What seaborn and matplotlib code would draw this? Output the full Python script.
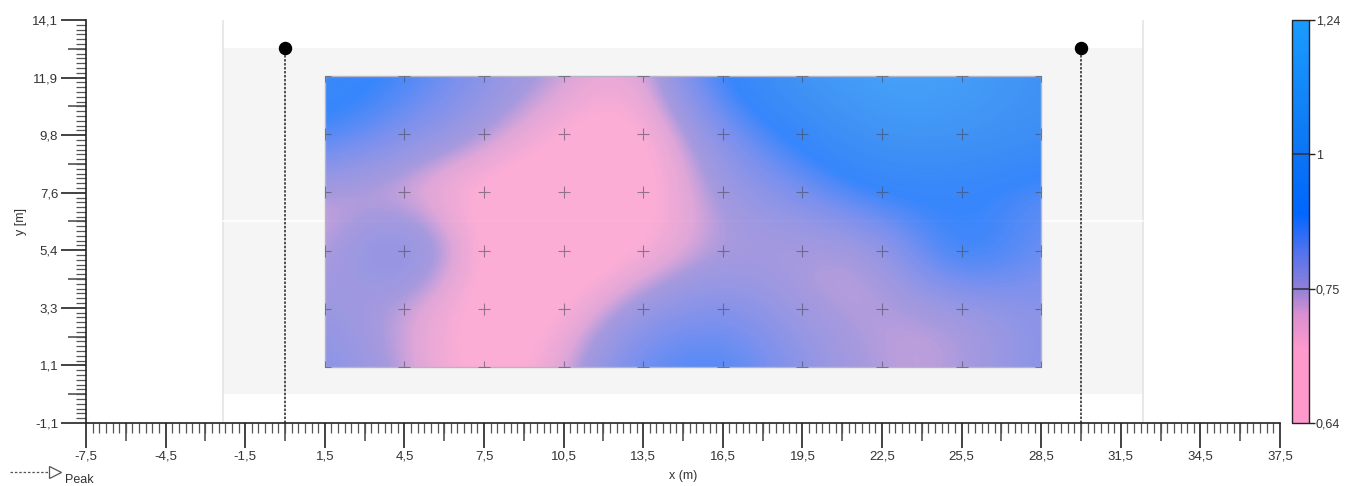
import numpy as np
import matplotlib
matplotlib.use("Agg")
import matplotlib.pyplot as plt
import matplotlib.colors as mcolors
from matplotlib.cm import ScalarMappable
from matplotlib.patches import Rectangle
from matplotlib.lines import Line2D
import seaborn as sns

# measurement grid (x in m, y in m)
grid_x = [1.5, 4.5, 7.5, 10.5, 13.5, 16.5, 19.5, 22.5, 25.5, 28.5]
grid_y = [12.0, 9.8, 7.6, 5.4, 3.2, 1.0]

# values, one row per grid_y
row_12_0 = [0.95, 0.88, 0.79, 0.74, 0.70, 0.90, 1.05, 1.15, 1.12, 1.00]
row_9_8 = [0.88, 0.80, 0.75, 0.69, 0.68, 0.79, 0.92, 1.05, 1.05, 0.98]
row_7_6 = [0.73, 0.71, 0.68, 0.67, 0.68, 0.76, 0.80, 0.90, 0.88, 0.84]
row_5_4 = [0.73, 0.84, 0.68, 0.67, 0.69, 0.75, 0.74, 0.73, 0.95, 0.82]
row_3_2 = [0.77, 0.73, 0.68, 0.69, 0.77, 0.81, 0.75, 0.74, 0.74, 0.79]
row_1_0 = [0.80, 0.74, 0.68, 0.72, 0.85, 0.88, 0.78, 0.74, 0.74, 0.80]

peak_x = [0.0, 30.0]
peak_y = 13.05
zone = (-2.35, 0.0, 32.35, 13.05)  # grey zone: x0, y0, x1, y1

cbar_bounds = [0.64, 0.75, 1.0, 1.24]
cbar_labels = ["0,64", "0,75", "1", "1,24"]

x_tick_vals = np.arange(-7.5, 37.6, 3.0)
x_tick_labels = [f"{v:g}".replace(".", ",") for v in x_tick_vals]
y_tick_vals = np.linspace(-1.1, 14.1, 8)
y_tick_labels = ["-1,1", "1,1", "3,3", "5,4", "7,6", "9,8", "11,9", "14,1"]

values = np.array([row_12_0, row_9_8, row_7_6, row_5_4, row_3_2, row_1_0])

sns.set_theme(style="white")
plt.rcParams["font.family"] = ["Liberation Sans", "DejaVu Sans"]

# colormap: pink -> purple -> strong blue -> light blue
cmap = mcolors.LinearSegmentedColormap.from_list("peak", [
    (0.00, "#ff99cc"), (0.18, "#ff99cc"), (0.27, "#d890d0"),
    (0.333, "#9080d8"), (0.42, "#5573ee"), (0.52, "#0066ff"),
    (0.667, "#0b74f4"), (1.00, "#1a9cff")])
steps = [0, 1 / 3, 2 / 3, 1]
norm = mcolors.FuncNorm((lambda v: np.interp(v, cbar_bounds, steps),
                         lambda f: np.interp(f, steps, cbar_bounds)),
                        vmin=cbar_bounds[0], vmax=cbar_bounds[-1])

W, H = 1356, 486
fig = plt.figure(figsize=(W / 100, H / 100), dpi=100)
ax = fig.add_axes([86 / W, 63 / H, 1194 / W, 403 / H])
cax = fig.add_axes([1292 / W, 63 / H, 17 / W, 403 / H])

ax.set_xlim(-7.5, 37.5)
ax.set_ylim(-1.1, 14.1)

# grey zone + border lines
ax.add_patch(Rectangle((zone[0], zone[1]), zone[2] - zone[0], zone[3] - zone[1],
                       facecolor="#f5f5f5", edgecolor="none", zorder=0))
for xv in (zone[0], zone[2]):
    ax.axvline(xv, color="#e4e4e4", lw=1.2, zorder=0.5)
ax.plot([zone[0], zone[2]], [(zone[1] + zone[3]) / 2] * 2, color="white", lw=1.2, zorder=0.6)

# interpolated map
dx, dy = 1.5, 1.1
im = ax.imshow(values, cmap=cmap, norm=norm, alpha=0.78, interpolation="bicubic",
               extent=[grid_x[0] - dx, grid_x[-1] + dx, grid_y[-1] - dy, grid_y[0] + dy],
               aspect="auto", zorder=1)
clip = Rectangle((grid_x[0], grid_y[-1]), grid_x[-1] - grid_x[0], grid_y[0] - grid_y[-1],
                 transform=ax.transData, facecolor="none", edgecolor="none")
im.set_clip_path(clip)
ax.add_patch(Rectangle((grid_x[0], grid_y[-1]), grid_x[-1] - grid_x[0], grid_y[0] - grid_y[-1],
                       facecolor="none", edgecolor="#b5b5c5", lw=1, zorder=2))

# measurement points
gx, gy = np.meshgrid(grid_x, grid_y)
sns.scatterplot(x=gx.ravel(), y=gy.ravel(), marker="+", s=85, color="#4a4a5a",
                linewidth=0.8, alpha=0.6, ax=ax, zorder=3, legend=False)
ax.collections[-1].set_clip_path(clip)

# peaks
for px in peak_x:
    ax.plot([px, px], [-1.1, peak_y], color="#222222", lw=1.1, ls=(0, (1.6, 1.0)), zorder=4)
ax.scatter(peak_x, [peak_y] * len(peak_x), s=75, color="black", zorder=5)

# axes styling
for side in ("top", "right"):
    ax.spines[side].set_visible(False)
for side in ("left", "bottom"):
    ax.spines[side].set_color("#222222")
    ax.spines[side].set_linewidth(1.2)
ax.grid(False)

ax.set_xticks(x_tick_vals)
ax.set_xticklabels(x_tick_labels)
ax.set_yticks(y_tick_vals)
ax.set_yticklabels(y_tick_labels)
ax.set_xticks(np.arange(-7.5, 37.51, 0.25), minor=True)
ax.set_yticks(np.linspace(-1.1, 14.1, 85), minor=True)
ax.tick_params(which="major", length=18, width=1.2, color="#222222", labelsize=9.5,
               labelcolor="#333333", direction="out", bottom=True, left=True)
ax.tick_params(axis="x", which="major", pad=2)
ax.tick_params(axis="y", which="major", pad=2)
ax.tick_params(which="minor", length=7, width=0.9, color="#555555", direction="out",
               bottom=True, left=True)

# medium ticks halfway between the labelled ones
secx = ax.secondary_xaxis("bottom")
secx.set_xticks(x_tick_vals[:-1] + 1.5)
secx.tick_params(length=13, width=1.1, color="#444444", labelbottom=False)
secx.spines["bottom"].set_visible(False)
secy = ax.secondary_yaxis("left")
secy.set_yticks(y_tick_vals[:-1] + (y_tick_vals[1] - y_tick_vals[0]) / 2)
secy.tick_params(length=13, width=1.1, color="#444444", labelleft=False)
secy.spines["left"].set_visible(False)

ax.set_xlabel("x (m)", fontsize=9, color="#333333", labelpad=5)
ax.set_ylabel("y [m]", fontsize=9, color="#333333", labelpad=4)

# colorbar
cb = fig.colorbar(ScalarMappable(norm=norm, cmap=cmap), cax=cax)
cb.set_ticks(cbar_bounds, labels=cbar_labels)
cb.outline.set_edgecolor("#222222")
cb.outline.set_linewidth(1)
cax.tick_params(length=4, width=1, color="#222222", labelsize=9, labelcolor="#333333", pad=1)
for v in cbar_bounds[1:-1]:
    cax.axhline(v, color="#333344", lw=1.2)

# legend for the peak line
fig.add_artist(Line2D([10, 49], [14, 14], transform=None, color="#555555", lw=0.9,
                      ls=(0, (2, 1.5))))
fig.add_artist(Line2D([55], [14], transform=None, marker=">", markersize=9,
                      markerfacecolor="white", markeredgecolor="#555555", mew=0.9))
fig.text(65 / W, 3 / H, "Peak", fontsize=9, color="#333333")

fig.savefig("out.png", dpi=100)
